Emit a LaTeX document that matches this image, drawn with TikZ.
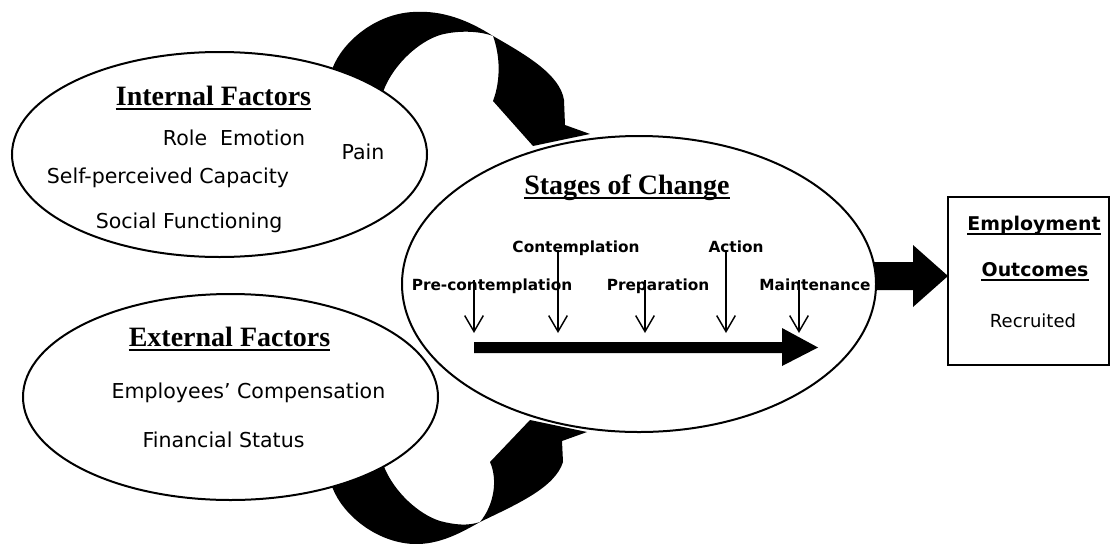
\documentclass[tikz,border=0pt]{standalone}
\usepackage{fontspec}
\setmainfont{Liberation Serif}
\newfontfamily\dvs{DejaVu Sans}
\usetikzlibrary{arrows.meta,shapes.geometric}
\begin{document}
\begin{tikzpicture}[x=0.75pt,y=-0.75pt,
  bubble/.style={ellipse,draw=black,line width=1.5pt,fill=white,inner sep=0pt},
  outbox/.style={rectangle,draw=black,line width=1.5pt,fill=white,inner sep=0pt},
  heading/.style={font=\bfseries\fontsize{21}{25}\selectfont,inner sep=0pt,anchor=base},
  item/.style={font=\dvs\fontsize{15.4}{18}\selectfont,inner sep=0pt,anchor=base},
  stage/.style={font=\dvs\bfseries\fontsize{11.5}{14}\selectfont,inner sep=0pt,anchor=base},
  boxhead/.style={font=\dvs\bfseries\fontsize{14.2}{17}\selectfont,inner sep=0pt,anchor=base},
  boxitem/.style={font=\dvs\fontsize{13.5}{16}\selectfont,inner sep=0pt,anchor=base},
  uline/.style={line width=1.6pt},
  thinuline/.style={line width=1.2pt},
  stagearrow/.style={line width=1.1pt,-{Straight Barb[length=12pt,width=14pt]}},
  blackshape/.style={fill=black}
]
\useasboundingbox[fill=white] (0,0) rectangle (1113,543);

% curved ribbon arrow from the internal factors to the stages of change
\fill[blackshape] (318,100) -- (333,67)
  .. controls (343,42) and (375,14) .. (413,12)
  .. controls (442,10) and (468,20) .. (493,36)
  .. controls (528,56) and (560,75) .. (564,100)
  -- (565,125) -- (590,134) -- (533,146) -- (493,101)
  .. controls (501,80) and (500,55) .. (493,36)
  .. controls (480,31) and (458,30) .. (440,35)
  .. controls (418,42) and (395,64) .. (385,87)
  -- (375,112) -- cycle;

% curved ribbon arrow from the external factors to the stages of change
\fill[blackshape] (318,456) -- (333,489)
  .. controls (343,514) and (375,542) .. (413,544)
  .. controls (440,545) and (462,532) .. (480,522)
  .. controls (515,505) and (555,488) .. (563,462)
  -- (562,441) -- (587,432) -- (530,420) -- (490,462)
  .. controls (498,480) and (494,505) .. (480,522)
  .. controls (468,526) and (455,525) .. (440,521)
  .. controls (418,514) and (395,492) .. (385,469)
  -- (375,444) -- cycle;

% arrow towards the outcomes
\fill[blackshape] (860,262) -- (913,262) -- (913,245) -- (948,276)
  -- (913,307) -- (913,290) -- (860,290) -- cycle;

% the three bubbles and the outcome box
\node[bubble,minimum width=311.25pt,minimum height=153.75pt] (internal) at (219.5,154.5) {};
\node[bubble,minimum width=311.25pt,minimum height=154.5pt] (external) at (230.5,397) {};
\node[bubble,minimum width=355.5pt,minimum height=222pt] (stages) at (639,284) {};
\node[outbox,minimum width=120.75pt,minimum height=126pt] (outcome) at (1028.5,281) {};

% internal factors
\node[heading] (tint) at (213.5,105) {Internal Factors};
\draw[uline] ([yshift=-3pt]tint.base west) -- ([yshift=-3pt]tint.base east);
\node[item] (role) at (234,145) {Role\ \ Emotion};
\node[item] (pain) at (363,159) {Pain};
\node[item] (capacity) at (168,183) {Self-perceived Capacity};
\node[item] (social) at (189,228) {Social Functioning};

% external factors
\node[heading] (text) at (229.5,346) {External Factors};
\draw[uline] ([yshift=-3pt]text.base west) -- ([yshift=-3pt]text.base east);
\node[item] (comp) at (248.5,398) {Employees’ Compensation};
\node[item] (fin) at (223.5,447) {Financial Status};

% stages of change
\node[heading] (tstage) at (627,194) {Stages of Change};
\draw[uline] ([yshift=-3pt]tstage.base west) -- ([yshift=-3pt]tstage.base east);
\node[stage] (pre) at (492,290) {Pre-contemplation};
\node[stage] (con) at (576,252) {Contemplation};
\node[stage] (prep) at (658,290) {Preparation};
\node[stage] (act) at (736,252) {Action};
\node[stage] (main) at (815,290) {Maintenance};

\coordinate (pre1) at (474,280);  \coordinate (pre2) at (474,333);
\coordinate (con1) at (558,250);  \coordinate (con2) at (558,333);
\coordinate (prep1) at (645,280); \coordinate (prep2) at (645,333);
\coordinate (act1) at (726,250);  \coordinate (act2) at (726,333);
\coordinate (main1) at (799,280); \coordinate (main2) at (799,333);
\draw[stagearrow] (pre1) -- (pre2);
\draw[stagearrow] (con1) -- (con2);
\draw[stagearrow] (prep1) -- (prep2);
\draw[stagearrow] (act1) -- (act2);
\draw[stagearrow] (main1) -- (main2);

% progression through the stages
\fill[blackshape] (474,342) -- (782,342) -- (782,328) -- (818,347.5)
  -- (782,366) -- (782,353) -- (474,353) -- cycle;

% employment outcomes
\node[boxhead] (emp) at (1034,230) {Employment};
\draw[thinuline] ([yshift=-3pt]emp.base west) -- ([yshift=-3pt]emp.base east);
\node[boxhead] (outc) at (1035,276) {Outcomes};
\draw[thinuline] ([yshift=-3pt]outc.base west) -- ([yshift=-3pt]outc.base east);
\node[boxitem] (rec) at (1033,327) {Recruited};
\end{tikzpicture}
\end{document}
